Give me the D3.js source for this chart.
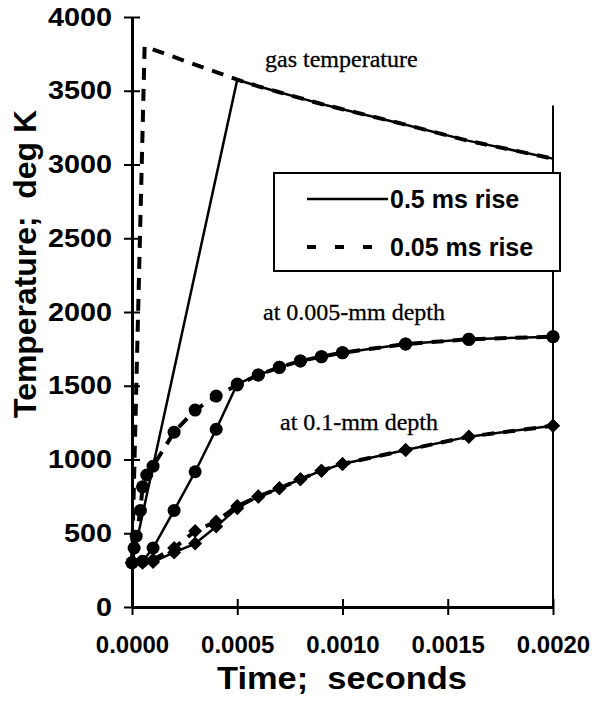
<!DOCTYPE html>
<html>
<head>
<meta charset="utf-8">
<script src="https://cdn.jsdelivr.net/npm/d3@7"></script>
<style>
  body { margin: 0; background: #fff; }
  text { fill: #000; }
</style>
</head>
<body>
<div class="canvas"></div>
<script>
// gas temperature, 0.5 ms and 0.05 ms rise
const gasTimeSlow = [0, 0.0005, 0.0006, 0.0007, 0.0008, 0.0009, 0.0010, 0.0013, 0.0016, 0.0020];
const gasTempSlow = [300, 3575, 3530, 3490, 3450, 3410, 3375, 3270, 3160, 3040];
const gasTimeFast = [0, 0.00006, 0.0005, 0.0006, 0.0007, 0.0008, 0.0009, 0.0010, 0.0013, 0.0016, 0.0020];
const gasTempFast = [300, 3800, 3575, 3530, 3490, 3450, 3410, 3375, 3270, 3160, 3040];

// at 0.005-mm depth (circles)
const shallowTimeSlow = [0, 0.00005, 0.0001, 0.0002, 0.0003, 0.0004, 0.0005, 0.0006, 0.0007, 0.0008, 0.0009, 0.0010, 0.0013, 0.0016, 0.0020];
const shallowTempSlow = [300, 310, 400, 655, 917, 1205, 1512, 1573, 1625, 1668, 1697, 1724, 1783, 1815, 1833];
const shallowTimeFast = [0, 0.00001, 0.00002, 0.00004, 0.00005, 0.00007, 0.0001, 0.0002, 0.0003, 0.0004, 0.0005, 0.0006, 0.0007, 0.0008, 0.0009, 0.0010, 0.0013, 0.0016, 0.0020];
const shallowTempFast = [300, 400, 480, 655, 815, 895, 955, 1185, 1335, 1430, 1505, 1573, 1625, 1668, 1697, 1724, 1783, 1815, 1833];

// at 0.1-mm depth (diamonds)
const deepTime = [0, 0.00005, 0.0001, 0.0002, 0.0003, 0.0004, 0.0005, 0.0006, 0.0007, 0.0008, 0.0009, 0.0010, 0.0013, 0.0016, 0.0020];
const deepTempSlow = [300, 300, 305, 370, 430, 545, 670, 748, 805, 866, 924, 970, 1064, 1155, 1229];
const deepTempFast = [300, 305, 320, 400, 515, 580, 685, 750, 805, 866, 924, 970, 1064, 1155, 1229];

const xTicks = [0, 0.0005, 0.0010, 0.0015, 0.0020];
const yTicks = [0, 500, 1000, 1500, 2000, 2500, 3000, 3500, 4000];
const legendLabels = ['0.5 ms rise', '0.05 ms rise'];

const dims = { width: 594, height: 709 };
const plot = { left: 132, right: 553, top: 17, bottom: 607 };
const sans = 'Liberation Sans, Arial, sans-serif';
const serif = 'Liberation Serif, Times New Roman, serif';

const svg = d3.select('.canvas')
    .append('svg')
    .attr('width', dims.width)
    .attr('height', dims.height);

svg.append('rect').attr('width', dims.width).attr('height', dims.height).attr('fill', '#fff');

const x = d3.scaleLinear().domain([0, 0.002]).range([plot.left, plot.right]);
const y = d3.scaleLinear().domain([0, 4000]).range([plot.bottom, plot.top]);

const zip = (ts, vs) => ts.map((t, i) => ({ t: t, v: vs[i] }));
const line = d3.line().x(d => x(d.t)).y(d => y(d.v));

const dash = '12,9';

// right hand vertical line
svg.append('line')
    .attr('x1', x(0.002)).attr('x2', x(0.002))
    .attr('y1', y(0)).attr('y2', y(3400))
    .attr('stroke', '#000').attr('stroke-width', 2);

// series lines
const series = [
    { data: zip(gasTimeSlow, gasTempSlow), dashed: false, marker: null },
    { data: zip(gasTimeFast, gasTempFast), dashed: true, marker: null },
    { data: zip(shallowTimeSlow, shallowTempSlow), dashed: false, marker: 'circle' },
    { data: zip(shallowTimeFast, shallowTempFast), dashed: true, marker: 'circle' },
    { data: zip(deepTime, deepTempSlow), dashed: false, marker: 'diamond' },
    { data: zip(deepTime, deepTempFast), dashed: true, marker: 'diamond' }
];

series.forEach(s => {
    svg.append('path')
        .attr('d', line(s.data))
        .attr('fill', 'none')
        .attr('stroke', '#000')
        .attr('stroke-width', s.dashed ? 4 : 2.5)
        .attr('stroke-dasharray', s.dashed ? dash : null);

    if (s.marker === 'circle') {
        svg.selectAll(null).data(s.data).enter()
            .append('circle')
            .attr('cx', d => x(d.t)).attr('cy', d => y(d.v))
            .attr('r', 6.5).attr('fill', '#000');
    } else if (s.marker === 'diamond') {
        svg.selectAll(null).data(s.data).enter()
            .append('path')
            .attr('d', d3.symbol(d3.symbolDiamond2, 125))
            .attr('transform', d => `translate(${x(d.t)},${y(d.v)})`)
            .attr('fill', '#000');
    }
});

// axes
const yAxis = svg.append('g')
    .attr('transform', `translate(${plot.left},0)`)
    .call(d3.axisLeft(y).tickValues(yTicks).tickFormat(d3.format('d')).tickSizeInner(8).tickSizeOuter(0).tickPadding(12));
yAxis.selectAll('.tick line').attr('x1', 8).attr('stroke-width', 2);
yAxis.select('.domain').attr('stroke-width', 3);
yAxis.selectAll('text')
    .attr('font-family', sans)
    .attr('font-weight', 'bold').attr('font-size', 25)
    .attr('textLength', d => String(d).length * 16)
    .attr('lengthAdjust', 'spacingAndGlyphs');

const xAxis = svg.append('g')
    .attr('transform', `translate(0,${plot.bottom})`)
    .call(d3.axisBottom(x).tickValues(xTicks).tickFormat(d3.format('.4f')).tickSizeInner(8).tickSizeOuter(0).tickPadding(21));
xAxis.selectAll('.tick line').attr('y1', -8).attr('stroke-width', 2);
xAxis.select('.domain').attr('stroke-width', 3);
xAxis.selectAll('text')
    .attr('font-family', sans)
    .attr('font-weight', 'bold').attr('font-size', 24);

// axis titles
svg.append('text')
    .attr('transform', 'translate(36,264) rotate(-90)')
    .attr('text-anchor', 'middle')
    .attr('font-family', sans)
    .attr('font-weight', 'bold').attr('font-size', 31)
    .attr('textLength', 308).attr('lengthAdjust', 'spacingAndGlyphs')
    .attr('xml:space', 'preserve')
    .text('Temperature;  deg K');

svg.append('text')
    .attr('x', 342).attr('y', 689)
    .attr('text-anchor', 'middle')
    .attr('font-family', sans)
    .attr('font-weight', 'bold').attr('font-size', 31)
    .attr('textLength', 250).attr('lengthAdjust', 'spacingAndGlyphs')
    .attr('xml:space', 'preserve')
    .text('Time;  seconds');

// annotations
const notes = [
    { text: 'gas temperature', x: 265, y: 67 },
    { text: 'at 0.005-mm depth', x: 263, y: 320 },
    { text: 'at 0.1-mm depth', x: 280, y: 430 }
];
svg.selectAll('.note').data(notes).enter()
    .append('text')
    .attr('class', 'note')
    .attr('x', d => d.x).attr('y', d => d.y)
    .attr('font-family', serif)
    .attr('font-size', 24)
    .attr('stroke', '#000').attr('stroke-width', 0.3)
    .text(d => d.text);

// legend
const legend = svg.append('g');
legend.append('rect')
    .attr('x', 274).attr('y', 173).attr('width', 286).attr('height', 98)
    .attr('fill', '#fff').attr('stroke', '#000').attr('stroke-width', 2);

legendLabels.forEach((lab, i) => {
    const ly = 199 + i * 48;
    legend.append('line')
        .attr('x1', 307).attr('x2', i === 0 ? 388 : 375)
        .attr('y1', ly).attr('y2', ly)
        .attr('stroke', '#000')
        .attr('stroke-width', i === 0 ? 2.5 : 4)
        .attr('stroke-dasharray', i === 0 ? null : '9,19');
    legend.append('text')
        .attr('x', 390).attr('y', ly + 9)
        .attr('font-family', sans)
        .attr('font-weight', 'bold').attr('font-size', 25)
        .text(lab);
});
</script>
</body>
</html>
